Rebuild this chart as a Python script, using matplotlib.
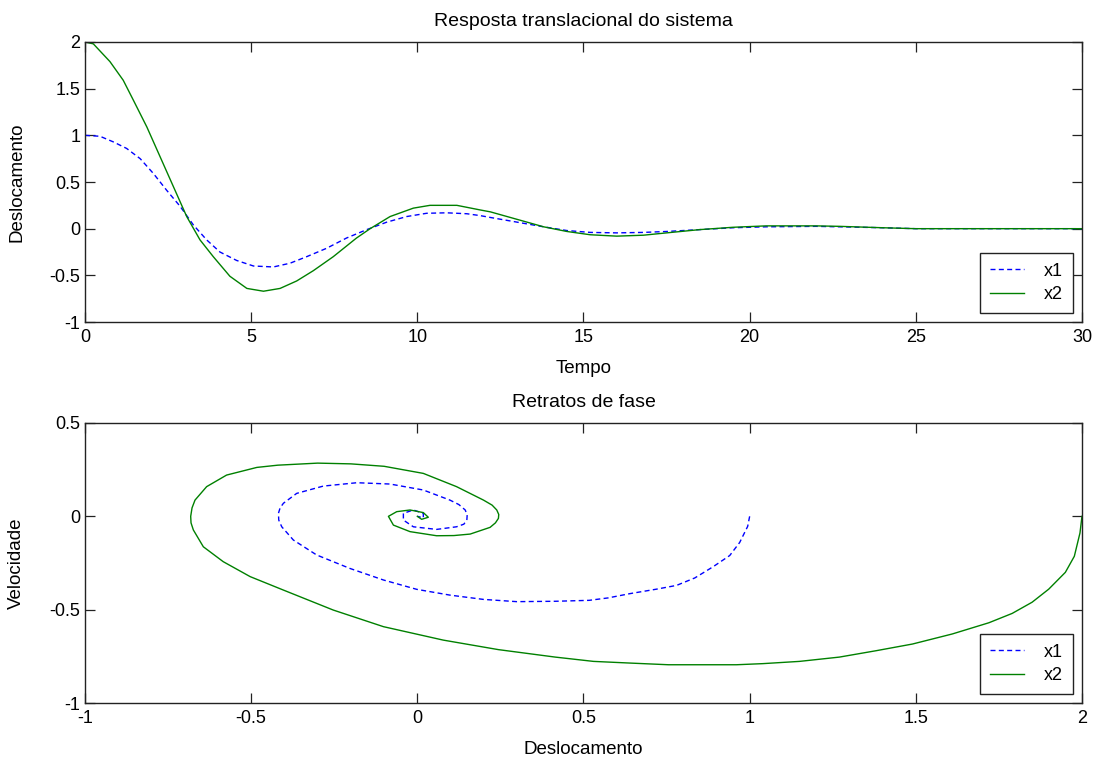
import matplotlib
matplotlib.use("Agg")
import matplotlib.pyplot as plt

# ---------------- data ----------------
# top panel: displacement versus time (separate time samples per series)
t_x1 = [0, 0.45, 0.85, 1.25, 1.66, 2.06, 2.46, 2.86, 3.26, 3.66, 4.06, 4.56, 5.07,
        5.67, 6.17, 6.67, 7.27, 7.87, 8.48, 9.08, 9.68, 10.28, 10.88, 11.49,
        11.89, 12.2, 13, 13.8, 14.5, 15.2, 16, 16.8, 17.5, 18.5, 19.5, 20.5, 22,
        22.7, 24, 25, 30]
x1 = [1.0, 0.99, 0.93, 0.86, 0.75, 0.59, 0.41, 0.24, 0.04, -0.12, -0.25, -0.34,
      -0.40, -0.41, -0.37, -0.30, -0.21, -0.10, -0.01, 0.07, 0.13, 0.165, 0.17,
      0.16, 0.14, 0.12, 0.07, 0.02, -0.02, -0.04, -0.045, -0.04, -0.03, -0.01,
      0.01, 0.02, 0.025, 0.02, 0.01, 0.0, 0.0]
t_x2 = [0, 0.25, 0.75, 1.15, 1.45, 1.86, 2.26, 2.66, 3.06, 3.46, 3.86, 4.36, 4.87,
        5.37, 5.87, 6.37, 6.87, 7.47, 8.17, 8.58, 9.18, 9.88, 10.38, 11.19, 11.9,
        12.2, 13, 13.8, 14.5, 15.2, 16, 16.8, 17.5, 18.5, 19.5, 20.5, 22, 22.7,
        24, 25, 30]
x2 = [2.0, 1.98, 1.79, 1.59, 1.38, 1.09, 0.77, 0.45, 0.13, -0.12, -0.30, -0.51,
      -0.64, -0.67, -0.64, -0.56, -0.45, -0.30, -0.10, 0.0, 0.13, 0.22, 0.25,
      0.25, 0.20, 0.18, 0.10, 0.02, -0.03, -0.065, -0.08, -0.07, -0.045, -0.01,
      0.015, 0.03, 0.03, 0.025, 0.01, 0.0, 0.0]

# bottom panel: phase portraits (displacement, velocity)
fase1_x = [1.0, 0.994, 0.97, 0.94, 0.89, 0.835, 0.78, 0.72, 0.64, 0.574, 0.517,
           0.415, 0.299, 0.199, 0.098, -0.002, -0.102, -0.203, -0.303, -0.373,
           -0.408, -0.417, -0.418, -0.413, -0.403, -0.363, -0.283, -0.182, -0.082,
           0.018, 0.098, 0.125, 0.144, 0.15, 0.149, 0.14, 0.118, 0.058, -0.012,
           -0.042, -0.042, -0.012, 0.018, 0.018, 0.0]
fase1_v = [0.0, -0.054, -0.14, -0.21, -0.27, -0.33, -0.37, -0.39, -0.414, -0.437,
           -0.45, -0.455, -0.457, -0.445, -0.422, -0.391, -0.341, -0.279, -0.207,
           -0.127, -0.056, -0.02, 0.016, 0.045, 0.07, 0.123, 0.162, 0.18, 0.173,
           0.141, 0.087, 0.063, 0.034, 0.008, -0.02, -0.042, -0.056, -0.07,
           -0.056, -0.02, 0.016, 0.034, 0.016, -0.008, 0.0]

fase2_x = [2.0, 1.994, 1.977, 1.95, 1.90, 1.85, 1.79, 1.72, 1.61, 1.49, 1.38, 1.27,
           1.15, 1.04, 0.96, 0.756, 0.64, 0.53, 0.415, 0.244, 0.078, -0.102,
           -0.253, -0.403, -0.503, -0.584, -0.644, -0.674, -0.681, -0.682, -0.678,
           -0.669, -0.634, -0.574, -0.483, -0.42, -0.30, -0.20, -0.10, 0.018,
           0.118, 0.199, 0.225, 0.239, 0.245, 0.244, 0.235, 0.219, 0.159, 0.11,
           0.058, -0.022, -0.072, -0.087, -0.062, -0.022, 0.018, 0.033, 0.013,
           0.0]
fase2_v = [0.0, -0.089, -0.214, -0.30, -0.39, -0.46, -0.52, -0.57, -0.63, -0.684,
           -0.72, -0.754, -0.777, -0.789, -0.795, -0.795, -0.786, -0.777, -0.754,
           -0.714, -0.663, -0.591, -0.502, -0.395, -0.323, -0.243, -0.163, -0.073,
           -0.035, 0.0, 0.045, 0.087, 0.159, 0.221, 0.262, 0.274, 0.285, 0.281,
           0.268, 0.23, 0.159, 0.087, 0.06, 0.034, 0.01, -0.011, -0.035, -0.059,
           -0.095, -0.103, -0.104, -0.082, -0.047, 0.0, 0.025, 0.034, 0.02,
           -0.005, -0.016, 0.0]

xt_top = [0, 5, 10, 15, 20, 25, 30]
yt_top = [-1, -0.5, 0, 0.5, 1, 1.5, 2]
xt_bot = [-1, -0.5, 0, 0.5, 1, 1.5, 2]
yt_bot = [-1, -0.5, 0, 0.5]
series_names = ["x1", "x2"]

# ---------------- styling ----------------
plt.rcParams['font.family'] = ['Liberation Sans', 'DejaVu Sans']
FS_TICK = 13
FS_LAB = 13.5
FS_TITLE = 14
BLUE = '#0000ff'
GREEN = '#008000'
DASH = (3.6, 2.4)


def fmt(v):
    return ('%g' % v)


def style_axes(ax, xt, yt):
    ax.set_xticks(xt)
    ax.set_yticks(yt)
    ax.set_xticklabels([fmt(v) for v in xt], fontsize=FS_TICK)
    ax.set_yticklabels([fmt(v) for v in yt], fontsize=FS_TICK)
    ax.tick_params(direction='in', top=True, right=True, length=7, width=0.9,
                   color='#222222')
    ax.tick_params(axis='x', pad=5)
    ax.tick_params(axis='y', pad=3.5)
    for s in ax.spines.values():
        s.set_linewidth(1.0)
        s.set_color('#222222')


fig = plt.figure(figsize=(10.97, 7.62), dpi=100)
ax1 = fig.add_axes([0.0775, 0.5774, 0.9088, 0.3675])
ax2 = fig.add_axes([0.0775, 0.0774, 0.9088, 0.3675])

ax1.plot(t_x1, x1, color=BLUE, lw=1.0, dashes=DASH, label=series_names[0])
ax1.plot(t_x2, x2, color=GREEN, lw=1.0, label=series_names[1])
ax1.set_xlim(0, 30)
ax1.set_ylim(-1, 2)
style_axes(ax1, xt_top, yt_top)
ax1.set_title('Resposta translacional do sistema', fontsize=FS_TITLE, pad=11.5)
ax1.set_xlabel('Tempo', fontsize=FS_LAB)
ax1.set_ylabel('Deslocamento', fontsize=FS_LAB)

ax2.plot(fase1_x, fase1_v, color=BLUE, lw=1.0, dashes=DASH, label=series_names[0])
ax2.plot(fase2_x, fase2_v, color=GREEN, lw=1.0, label=series_names[1])
ax2.set_xlim(-1, 2)
ax2.set_ylim(-1, 0.5)
style_axes(ax2, xt_bot, yt_bot)
ax2.set_title('Retratos de fase', fontsize=FS_TITLE, pad=11.5)
ax2.set_xlabel('Deslocamento', fontsize=FS_LAB)
ax2.set_ylabel('Velocidade', fontsize=FS_LAB)

for ax in (ax1, ax2):
    ax.xaxis.set_label_coords(0.5, -0.134)
    ax.yaxis.set_label_coords(-0.060, 0.5)
    leg = ax.legend(loc='lower right', fontsize=FS_TICK, fancybox=False,
                    shadow=False, framealpha=1, edgecolor='#222222',
                    handlelength=1.9, borderaxespad=0.5, borderpad=0.55,
                    labelspacing=0.35, handletextpad=1.1)
    leg.get_frame().set_linewidth(1.0)

fig.savefig('out.png', dpi=100, facecolor='white')
